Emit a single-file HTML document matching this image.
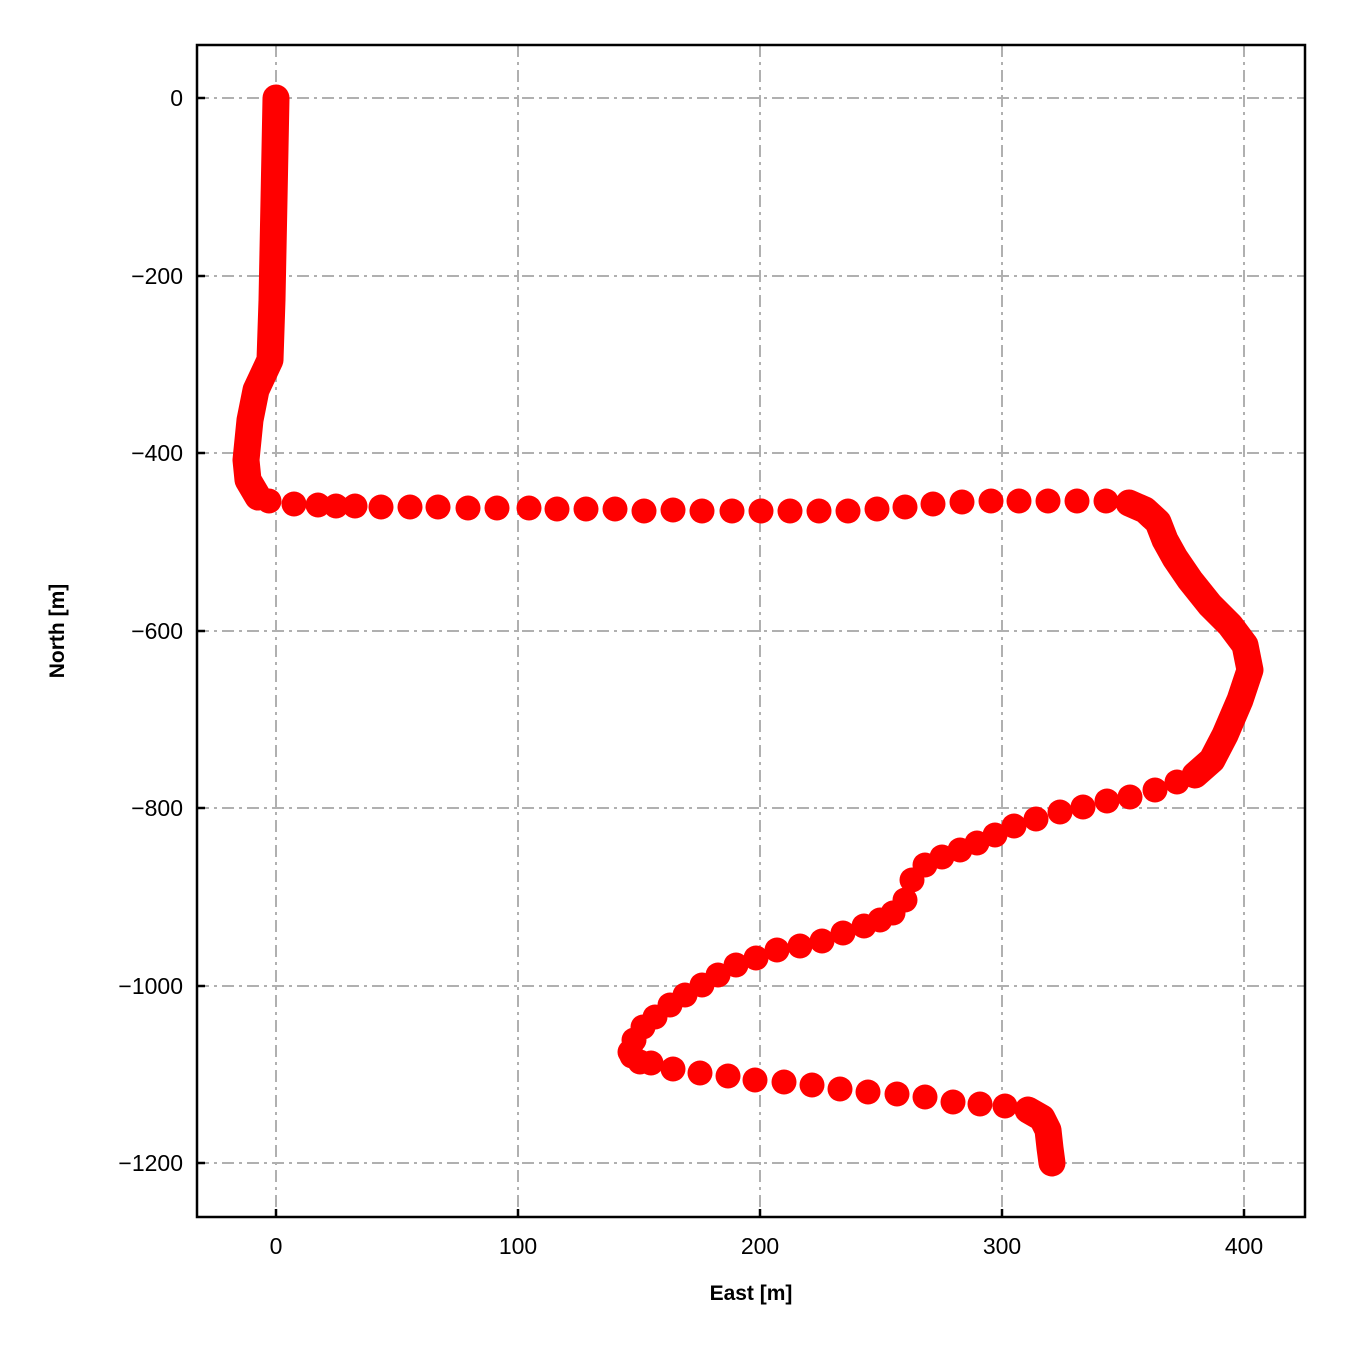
<!DOCTYPE html>
<html><head><style>body{margin:0;background:#fff}</style></head><body>
<svg width="1350" height="1350" xmlns="http://www.w3.org/2000/svg" font-family="Liberation Sans, Arial, sans-serif">
<rect width="1350" height="1350" fill="#fff"/>
<g stroke="#b0b0b0" stroke-width="2" stroke-dasharray="12,5,3,5">
<line x1="276" y1="45" x2="276" y2="1217"/><line x1="518" y1="45" x2="518" y2="1217"/><line x1="760" y1="45" x2="760" y2="1217"/><line x1="1002" y1="45" x2="1002" y2="1217"/><line x1="1244" y1="45" x2="1244" y2="1217"/>
<line x1="197" y1="98" x2="1305" y2="98"/><line x1="197" y1="276" x2="1305" y2="276"/><line x1="197" y1="453" x2="1305" y2="453"/><line x1="197" y1="631" x2="1305" y2="631"/><line x1="197" y1="808" x2="1305" y2="808"/><line x1="197" y1="986" x2="1305" y2="986"/><line x1="197" y1="1163" x2="1305" y2="1163"/>
</g>
<polyline fill="none" stroke="#ff0000" stroke-width="27" stroke-linecap="round" stroke-linejoin="round" points="276,98 274,200 272,300 270,360 256,390 250,420 246,460 248,480 258,497"/>
<rect x="197" y="45" width="1108" height="1172" fill="none" stroke="#000" stroke-width="2.5"/>
<g stroke="#000" stroke-width="2.5">
<line x1="276" y1="1217" x2="276" y2="1209"/><line x1="518" y1="1217" x2="518" y2="1209"/><line x1="760" y1="1217" x2="760" y2="1209"/><line x1="1002" y1="1217" x2="1002" y2="1209"/><line x1="1244" y1="1217" x2="1244" y2="1209"/>
<line x1="197" y1="98" x2="205" y2="98"/><line x1="197" y1="276" x2="205" y2="276"/><line x1="197" y1="453" x2="205" y2="453"/><line x1="197" y1="631" x2="205" y2="631"/><line x1="197" y1="808" x2="205" y2="808"/><line x1="197" y1="986" x2="205" y2="986"/><line x1="197" y1="1163" x2="205" y2="1163"/>
</g>
<g font-size="23" text-anchor="middle">
<text x="276" y="1254">0</text><text x="518" y="1254">100</text><text x="760" y="1254">200</text><text x="1002" y="1254">300</text><text x="1244" y="1254">400</text>
</g>
<g font-size="23" text-anchor="end">
<text x="183" y="106">0</text><text x="183" y="284">−200</text><text x="183" y="461">−400</text><text x="183" y="639">−600</text><text x="183" y="816">−800</text><text x="183" y="994">−1000</text><text x="183" y="1171">−1200</text>
</g>
<text x="751" y="1300" font-size="21" font-weight="bold" text-anchor="middle">East [m]</text>
<text transform="translate(64,631) rotate(-90)" font-size="21" font-weight="bold" text-anchor="middle">North [m]</text>
<g fill="#ff0000">
<circle cx="269" cy="501" r="12.5"/><circle cx="294" cy="504" r="12.5"/><circle cx="318" cy="505" r="12.5"/><circle cx="336" cy="506" r="12.5"/><circle cx="355" cy="506" r="12.5"/><circle cx="381" cy="507" r="12.5"/><circle cx="410" cy="507" r="12.5"/><circle cx="438" cy="507" r="12.5"/><circle cx="468" cy="508" r="12.5"/><circle cx="497" cy="508" r="12.5"/><circle cx="529" cy="508" r="12.5"/><circle cx="557" cy="509" r="12.5"/><circle cx="586" cy="509" r="12.5"/><circle cx="615" cy="509" r="12.5"/><circle cx="644" cy="511" r="12.5"/><circle cx="673" cy="510" r="12.5"/><circle cx="702" cy="511" r="12.5"/><circle cx="732" cy="511" r="12.5"/><circle cx="761" cy="511" r="12.5"/><circle cx="790" cy="511" r="12.5"/><circle cx="819" cy="511" r="12.5"/><circle cx="848" cy="511" r="12.5"/><circle cx="877" cy="509" r="12.5"/><circle cx="905" cy="507" r="12.5"/><circle cx="933" cy="504" r="12.5"/><circle cx="962" cy="502" r="12.5"/><circle cx="991" cy="501" r="12.5"/><circle cx="1019" cy="501" r="12.5"/><circle cx="1048" cy="501" r="12.5"/><circle cx="1077" cy="501" r="12.5"/><circle cx="1106" cy="501" r="12.5"/>
</g>
<polyline fill="none" stroke="#ff0000" stroke-width="27" stroke-linecap="round" stroke-linejoin="round" points="1129,503 1145,510 1158,522 1165,540 1175,558 1190,580 1210,605 1230,625 1245,645 1250,670 1240,700 1225,735 1212,760 1195,775"/>
<g fill="#ff0000">
<circle cx="1177" cy="782" r="12.5"/><circle cx="1155" cy="790" r="12.5"/><circle cx="1130" cy="797" r="12.5"/><circle cx="1107" cy="801" r="12.5"/><circle cx="1083" cy="807" r="12.5"/><circle cx="1060" cy="812" r="12.5"/><circle cx="1036" cy="819" r="12.5"/><circle cx="1014" cy="826" r="12.5"/><circle cx="995" cy="835" r="12.5"/><circle cx="977" cy="843" r="12.5"/><circle cx="960" cy="850" r="12.5"/><circle cx="942" cy="857" r="12.5"/><circle cx="925" cy="865" r="12.5"/><circle cx="912" cy="880" r="12.5"/><circle cx="905" cy="900" r="12.5"/><circle cx="893" cy="913" r="12.5"/><circle cx="880" cy="920" r="12.5"/><circle cx="864" cy="926" r="12.5"/><circle cx="843" cy="933" r="12.5"/><circle cx="822" cy="941" r="12.5"/><circle cx="800" cy="946" r="12.5"/><circle cx="777" cy="950" r="12.5"/><circle cx="756" cy="958" r="12.5"/><circle cx="736" cy="965" r="12.5"/><circle cx="718" cy="975" r="12.5"/><circle cx="702" cy="985" r="12.5"/><circle cx="685" cy="995" r="12.5"/><circle cx="670" cy="1005" r="12.5"/><circle cx="655" cy="1017" r="12.5"/><circle cx="643" cy="1027" r="12.5"/><circle cx="634" cy="1040" r="12.5"/><circle cx="630" cy="1052" r="12.5"/><circle cx="632" cy="1056" r="12.5"/><circle cx="640" cy="1062" r="12.5"/><circle cx="651" cy="1063" r="12.5"/><circle cx="673" cy="1069" r="12.5"/><circle cx="700" cy="1073" r="12.5"/><circle cx="728" cy="1076" r="12.5"/><circle cx="755" cy="1080" r="12.5"/><circle cx="784" cy="1082" r="12.5"/><circle cx="812" cy="1085" r="12.5"/><circle cx="840" cy="1089" r="12.5"/><circle cx="868" cy="1092" r="12.5"/><circle cx="897" cy="1094" r="12.5"/><circle cx="925" cy="1097" r="12.5"/><circle cx="953" cy="1102" r="12.5"/><circle cx="980" cy="1104" r="12.5"/><circle cx="1005" cy="1106" r="12.5"/><circle cx="1028" cy="1110" r="12.5"/>
</g>
<polyline fill="none" stroke="#ff0000" stroke-width="27" stroke-linecap="round" stroke-linejoin="round" points="1028,1110 1042,1118 1048,1130 1050,1148 1052,1163"/>
</svg>
</body></html>
